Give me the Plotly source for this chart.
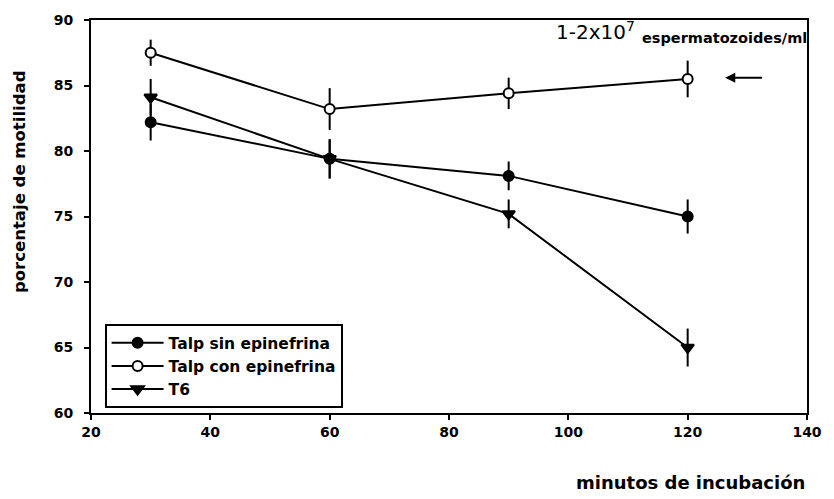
import plotly.graph_objects as go

minutos = [30, 60, 90, 120]
sin_epi = [82.2, 79.4, 78.1, 75.0]
sin_err = [1.4, 1.5, 1.1, 1.3]
con_epi = [87.5, 83.2, 84.4, 85.5]
con_err = [1.0, 1.6, 1.2, 1.4]
t6 = [84.1, 79.4, 75.2, 65.0]
t6_err = [1.4, 1.5, 1.1, 1.45]

FONT = "DejaVu Sans, Liberation Sans, Arial, sans-serif"

fig = go.Figure()
def add(name, y, e, symbol, fill, size):
    fig.add_trace(go.Scatter(
        x=minutos, y=y, name=name, mode="lines+markers",
        line=dict(color="black", width=2),
        marker=dict(symbol=symbol, size=size,
                    color=fill, line=dict(color="black", width=2)),
        error_y=dict(type="data", array=e, visible=True, color="black",
                     thickness=2, width=0),
    ))

add("Talp sin epinefrina", sin_epi, sin_err, "circle", "black", 10)
add("Talp con epinefrina", con_epi, con_err, "circle", "white", 10)
add("T6", t6, t6_err, "triangle-down", "black", 11)

# concentration note (positions in paper units)
fig.add_annotation(x=0.763, xref="paper", xanchor="right",
                   y=0.972, yref="paper", yanchor="middle",
                   text="1-2x10<sup>7</sup>", showarrow=False,
                   font=dict(family=FONT, size=20, color="black"))
fig.add_annotation(x=0.767, xref="paper", xanchor="left",
                   y=0.955, yref="paper", yanchor="middle",
                   text="espermatozoides/ml", showarrow=False,
                   font=dict(family=FONT, size=14.5, color="black", weight="bold"))
fig.add_annotation(x=126.3, y=85.6, xref="x", yref="y", ax=132.7, ay=85.6,
                   axref="x", ayref="y", text="", showarrow=True,
                   arrowhead=2, arrowsize=1, arrowwidth=2, arrowcolor="black")

# axis titles
fig.add_annotation(x=1.0, xref="paper", xanchor="right",
                   y=-0.176, yref="paper", yanchor="middle",
                   text="minutos de incubación", showarrow=False,
                   font=dict(family=FONT, size=18, color="black", weight="bold"))
fig.add_annotation(x=-0.099, xref="paper", xanchor="center",
                   y=0.588, yref="paper", yanchor="middle",
                   text="porcentaje de motilidad", textangle=-90, showarrow=False,
                   font=dict(family=FONT, size=16.5, color="black", weight="bold"))

axis_common = dict(showgrid=False, zeroline=False, showline=True, linecolor="black",
                   linewidth=2, mirror=True, ticks="outside", ticklen=5,
                   tickwidth=2, tickcolor="black",
                   tickfont=dict(family=FONT, size=14, weight="bold", color="black"))

fig.update_layout(
    width=834, height=499,
    margin=dict(l=91, r=18, t=15, b=86),
    paper_bgcolor="white", plot_bgcolor="white",
    font=dict(family=FONT, color="black", size=13),
    showlegend=True,
    legend=dict(x=0.019, y=0.226, xanchor="left", yanchor="top",
                bordercolor="black", borderwidth=2, bgcolor="white",
                font=dict(family=FONT, size=15.5, color="black", weight="bold"),
                itemwidth=52, tracegroupgap=0),
    xaxis=dict(range=[20, 140], tickvals=[20, 40, 60, 80, 100, 120, 140], **axis_common),
    yaxis=dict(range=[60, 90], tickvals=[60, 65, 70, 75, 80, 85, 90],
               ticklabelstandoff=8, **axis_common),
)

fig.write_html("out.html")
